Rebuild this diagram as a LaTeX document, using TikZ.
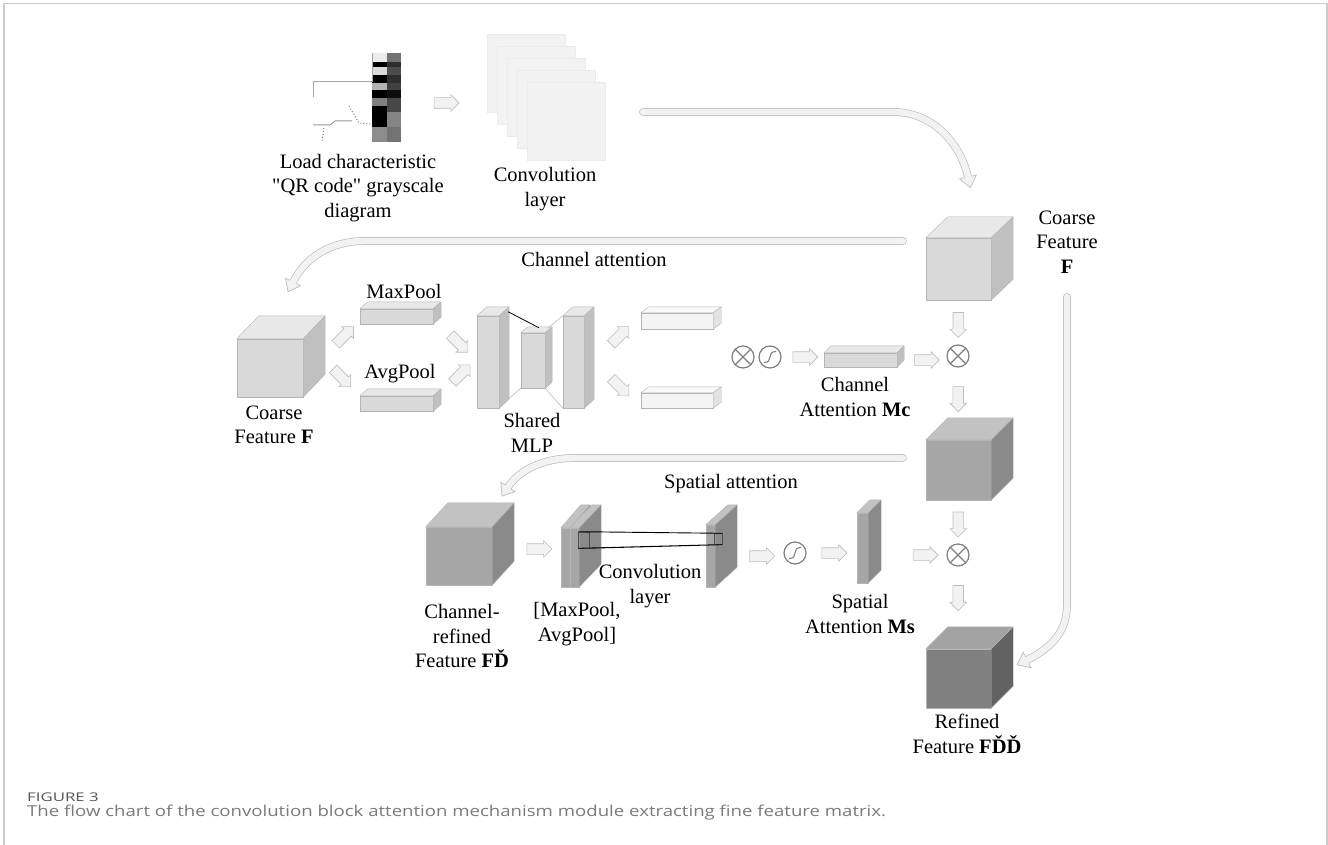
\documentclass[tikz,border=0pt]{standalone}
\usepackage{fontspec}
\setmainfont{Liberation Serif}[Ligatures=TeXOff]
\newfontfamily\captionfont{Open Sans}
\usetikzlibrary{shapes.arrows, decorations.markings, positioning}

\definecolor{arrfill}{HTML}{F2F2F2}
\definecolor{arrline}{HTML}{BDBDBD}
\definecolor{boxline}{HTML}{B4B4B4}
\definecolor{symgray}{HTML}{7F7F7F}
\definecolor{framegray}{HTML}{CCCCCC}
\definecolor{capgray}{HTML}{7A7A7A}
\definecolor{lightfront}{HTML}{D9D9D9}
\definecolor{lighttop}{HTML}{E8E8E8}
\definecolor{lightside}{HTML}{C0C0C0}
\definecolor{midfront}{HTML}{A6A6A6}
\definecolor{midtop}{HTML}{C2C2C2}
\definecolor{midside}{HTML}{8A8A8A}
\definecolor{darkfront}{HTML}{808080}
\definecolor{darktop}{HTML}{A3A3A3}
\definecolor{darkside}{HTML}{626262}
\definecolor{palefront}{HTML}{F4F4F4}
\definecolor{paletop}{HTML}{F9F9F9}
\definecolor{paleside}{HTML}{E2E2E2}

% top and side faces of a box whose front face is a node
\NewDocumentCommand{\boxfaces}{m m m m m}{%
  \filldraw[fill=#4, draw=boxline, line width=0.4pt, line join=round]
    (#1.north west) -- ++(#2,#3) -- ([shift={(#2,#3)}]#1.north east) -- (#1.north east) -- cycle;
  \filldraw[fill=#5, draw=boxline, line width=0.4pt, line join=round]
    (#1.north east) -- ([shift={(#2,#3)}]#1.north east) -- ([shift={(#2,#3)}]#1.south east) -- (#1.south east) -- cycle;
}

\tikzset{
  lbl/.style={font=\fontsize{20.5pt}{24.5pt}\selectfont, align=center, inner sep=0pt},
  front/.style={rectangle, draw=boxline, line width=0.4pt, inner sep=0pt},
  sheet/.style={rectangle, fill=arrfill, draw=black!8, line width=0.4pt, inner sep=0pt, minimum size=78pt},
  smallarr/.style={single arrow, draw=arrline, fill=arrfill, line width=0.6pt, inner sep=0pt,
    inner ysep=5pt, single arrow head extend=3pt, minimum height=25pt},
  otimes/.style={circle, draw=symgray, line width=1.2pt, minimum size=22pt, inner sep=0pt,
    path picture={\draw[symgray, line width=1.2pt]
      (path picture bounding box.north west) -- (path picture bounding box.south east)
      (path picture bounding box.north east) -- (path picture bounding box.south west);}},
  sigmoid/.style={circle, draw=symgray, line width=1.2pt, minimum size=22pt, inner sep=0pt,
    path picture={\draw[symgray, line width=1.1pt]
      ([shift={(-6,5.5)}]path picture bounding box.center) .. controls +(10,0) and +(-10,0) ..
      ([shift={(6,-5.5)}]path picture bounding box.center);}},
  flowarrow/.style={draw=arrline, double=arrfill, double distance=6.4pt, line width=0.7pt, line cap=round,
    postaction={decorate, decoration={markings, mark=at position 0.9999 with {%
      \filldraw[draw=arrline, fill=arrfill, line width=0.7pt, line cap=butt]
        (0,3.8) -- (0,8.5) -- (11,0) -- (0,-8.5) -- (0,-3.8);}}}}
}

\begin{document}
\begin{tikzpicture}[x=1pt, y=-1pt]
    \useasboundingbox (0,0) rectangle (1328,845);
    \draw[framegray, line width=1.2pt] (4,845) -- (4,3.5) -- (1327,3.5) -- (1327,845);

    % input grayscale picture
    \node[inner sep=0pt, minimum width=101pt, minimum height=89pt] (qrimg) at (350.5,97.5) {};
    \foreach \ya/\yb/\shade in {53/62/8, 62/67/100, 67/75/15, 75/83/100, 83/90/30, 90/98/100, 98/106/50, 106/127/100, 127/142/45}
        \fill[black!\shade] (372,\ya) rectangle (387,\yb);
    \foreach \ya/\yb/\shade in {53/62/55, 62/67/82, 67/75/70, 75/83/82, 83/90/75, 90/98/95, 98/112/72, 112/127/48, 127/142/55}
        \fill[black!\shade] (387,\ya) rectangle (401,\yb);
    \draw[black!35, line width=1pt] (372,53) -- (372,82) -- (313,82) -- (313,97);
    \draw[black!40, line width=1pt] (313,125) -- (330,125) -- (335,121) -- (352,121);
    \draw[black!50, line width=1pt, dotted] (349,106) -- (359,123) -- (372,124);
    \draw[black!50, line width=1pt, dotted] (324,128) -- (322,141);
    \node[lbl] (qrlbl) at (358,188) {Load characteristic\\"QR code" grayscale\\diagram};

    % convolution layer
    \foreach \i in {1,...,5}
        \node[sheet] (sheet\i) at ({526+10*(\i-1)},{73+12*(\i-1)}) {};
    \node[lbl] (convlbl) at (545,189) {Convolution\\layer};
    \path ([yshift=-5.5pt]qrimg.east) -- node[smallarr] {} ([yshift=-5.5pt]qrimg.east -| sheet1.west);

    % coarse feature, right column
    \node[front, fill=lightfront, minimum width=65pt, minimum height=62pt] (cubeA) at (958.5,269) {};
    \boxfaces{cubeA}{22}{-21}{lighttop}{lightside}
    \node[lbl] (cubeAlbl) at (1067,242) {Coarse\\Feature\\\textbf{F}};

    \coordinate (arrAin) at (643,112);
    \coordinate (arrAout) at (968,177);
    \draw[flowarrow] (arrAin) -- ++(250,0) .. controls +(42,0) and +(-7,-31) .. (arrAout);

    % channel attention
    \coordinate (arrBin) at (903,241);
    \coordinate (arrBout) at (293,282);
    \draw[flowarrow] (arrBin) -- ++(-538,0) .. controls +(-35,0) and +(12,-24) .. (arrBout);
    \node[lbl] (chattn) at (594,259) {Channel attention};

    \node[front, fill=lightfront, minimum width=66pt, minimum height=58pt] (cubeF) at (270,368) {};
    \boxfaces{cubeF}{22}{-23}{lighttop}{lightside}
    \node[lbl] (cubeFlbl) at (274,425) {Coarse\\Feature \textbf{F}};

    \node[front, fill=lightfront, minimum width=73pt, minimum height=15pt] (maxbar) at (396.5,316.5) {};
    \boxfaces{maxbar}{8}{-7}{lighttop}{lightside}
    \node[lbl] (maxlbl) at (404,291) {MaxPool};
    \node[front, fill=lightfront, minimum width=73pt, minimum height=15pt] (avgbar) at (396.5,403.5) {};
    \boxfaces{avgbar}{8}{-7}{lighttop}{lightside}
    \node[lbl] (avglbl) at (400,374) {AvgPool};

    \node[front, fill=lightfront, minimum width=22pt, minimum height=92pt] (mlpA) at (488,362) {};
    \boxfaces{mlpA}{10}{-9}{lighttop}{lightside}
    \node[front, fill=lightfront, minimum width=24pt, minimum height=55pt] (mlpB) at (533,360.5) {};
    \boxfaces{mlpB}{7}{-6}{lighttop}{lightside}
    \node[front, fill=lightfront, minimum width=21pt, minimum height=92pt] (mlpC) at (573.5,362) {};
    \boxfaces{mlpC}{10}{-9}{lighttop}{lightside}
    \draw[black, line width=0.8pt] ([shift={(9,-4)}]mlpA.north east) -- ([shift={(6,-5)}]mlpB.north);
    \draw[black!30, line width=0.5pt] ([shift={(3,-5)}]mlpB.north east) -- (mlpC.north west);
    \draw[black!30, line width=0.5pt] ([shift={(10,-10)}]mlpA.south east) -- (mlpB.south west);
    \draw[black!30, line width=0.5pt] (mlpB.south east) -- (mlpC.south west);
    \node[lbl] (mlplbl) at (532,433) {Shared\\MLP};

    \node[front, fill=palefront, minimum width=72pt, minimum height=16pt] (outA) at (677,321) {};
    \boxfaces{outA}{8}{-6}{paletop}{paleside}
    \node[front, fill=palefront, minimum width=72pt, minimum height=15pt] (outB) at (677,400.5) {};
    \boxfaces{outB}{8}{-6}{paletop}{paleside}

    \node[otimes] (otC) at (743,357) {};
    \node[sigmoid] (sigA) at (770,357) {};
    \node[front, fill=lightfront, minimum width=73pt, minimum height=14pt] (mcbar) at (860.5,360) {};
    \boxfaces{mcbar}{7}{-7}{lighttop}{lightside}
    \node[lbl] (mclbl) at (855,397) {Channel\\Attention \textbf{Mc}};

    \node[otimes] (otA) at (958,356) {};
    \node[front, fill=midfront, minimum width=65pt, minimum height=60pt] (cubeB) at (958.5,470) {};
    \boxfaces{cubeB}{22}{-22}{midtop}{midside}
    \node[otimes] (otB) at (958,555) {};
    \node[front, fill=darkfront, minimum width=65pt, minimum height=59pt] (cubeC) at (958.5,678.5) {};
    \boxfaces{cubeC}{22}{-22}{darktop}{darkside}
    \node[lbl] (cubeClbl) at (967,734) {Refined\\Feature \textbf{FĎĎ}};

    \coordinate (arrDin) at (1067,297);
    \coordinate (arrDout) at (1027,660);
    \draw[flowarrow] (arrDin) -- ++(0,308) .. controls +(0,30) and +(20,-10) .. (arrDout);

    % spatial attention
    \coordinate (arrCin) at (903,458);
    \coordinate (arrCout) at (508,487);
    \draw[flowarrow] (arrCin) -- ++(-328,0) .. controls +(-35,0) and +(10,-15) .. (arrCout);
    \node[lbl] (spattn) at (731,484) {Spatial attention};

    \node[front, fill=midfront, minimum width=66pt, minimum height=58pt] (cubeR) at (459,556) {};
    \boxfaces{cubeR}{22}{-24}{midtop}{midside}
    \node[lbl] (cubeRlbl) at (462,636) {Channel-\\refined\\Feature \textbf{FĎ}};

    \node[front, fill=midfront, minimum width=9pt, minimum height=59pt] (plate1) at (565.5,557.5) {};
    \boxfaces{plate1}{20}{-23}{midtop}{midside}
    \node[front, fill=midfront, minimum width=9pt, minimum height=59pt] (plate2) at (574.5,557.5) {};
    \boxfaces{plate2}{22}{-23}{midtop}{midside}
    \node[lbl] (poollbl) at (577,624) {[MaxPool,\\AvgPool]};

    \node[front, fill=midfront, minimum width=9pt, minimum height=62pt] (convS) at (710.5,556) {};
    \boxfaces{convS}{22}{-20}{midtop}{midside}
    \node[draw=black!70, line width=0.5pt, inner sep=0pt, minimum width=11pt, minimum height=16pt] (kernL) at (584,540) {};
    \node[draw=black!70, line width=0.5pt, inner sep=0pt, minimum width=8pt, minimum height=11pt] (kernR) at (718,539) {};
    \draw[black, line width=0.8pt] (kernL.north west) -- (kernR.north west) (kernL.north east) -- (kernR.north east)
        (kernL.south west) -- (kernR.south west) (kernL.south east) -- (kernR.south east);
    \node[lbl] (convSlbl) at (650,586) {Convolution\\layer};

    \node[sigmoid] (sigB) at (795,553) {};
    \node[front, fill=midfront, minimum width=11pt, minimum height=70pt] (msS) at (862.5,548) {};
    \boxfaces{msS}{13}{-13}{midtop}{midside}
    \node[lbl] (mslbl) at (860,614) {Spatial\\Attention \textbf{Ms}};

    % block arrows
    \path (cubeF.east) -- node[smallarr, rotate=45, pos=0.7] {} (maxbar.south west);
    \path (cubeF.north east) -- node[smallarr, rotate=-45, pos=0.65] {} (avgbar.north west);
    \path (maxbar.east) -- node[smallarr, rotate=-45, pos=0.55] {} (mlpA.west);
    \path (avgbar.north east) -- node[smallarr, rotate=45, pos=0.6] {} (mlpA.west);
    \path (mlpC.east) -- node[smallarr, rotate=45, pos=0.6] {} (outA.west);
    \path (mlpC.east) -- node[smallarr, rotate=-45, pos=0.6] {} (outB.west);
    \path (sigA.east) -- node[smallarr] {} (sigA.east -| mcbar.west);
    \path (mcbar.east) -- node[smallarr, pos=0.55] {} (mcbar.east -| otA.west);
    \path (cubeA.south) -- node[smallarr, rotate=-90] {} (otA.north);
    \path (otA.south) -- node[smallarr, rotate=-90, pos=0.4] {} (cubeB.north);
    \path (cubeB.south) -- node[smallarr, rotate=-90] {} (otB.north);
    \path (otB.south) -- node[smallarr, rotate=-90, pos=0.35] {} (cubeC.north);
    \path ([yshift=7pt]cubeR.east) -- node[smallarr, pos=0.65] {} ([yshift=7pt]cubeR.east -| plate1.west);
    \path (convS.east) -- node[smallarr, pos=0.65] {} (convS.east -| sigB.west);
    \path (sigB.east) -- node[smallarr] {} (sigB.east -| msS.west);
    \path (msS.east |- otB.west) -- node[smallarr, pos=0.7] {} (otB.west);

    % caption
    \node[anchor=base west, inner sep=0pt, font=\captionfont\fontsize{12pt}{14pt}\selectfont, text=black!68] (fignum) at (27,801)
        {\scalebox{1.4}[1]{FIGURE 3}};
    \node[anchor=base west, inner sep=0pt, font=\captionfont\fontsize{15pt}{18pt}\selectfont, text=capgray] (figcap) at (27,816)
        {\scalebox{1.24}[1]{The flow chart of the convolution block attention mechanism module extracting fine feature matrix.}};
\end{tikzpicture}
\end{document}
